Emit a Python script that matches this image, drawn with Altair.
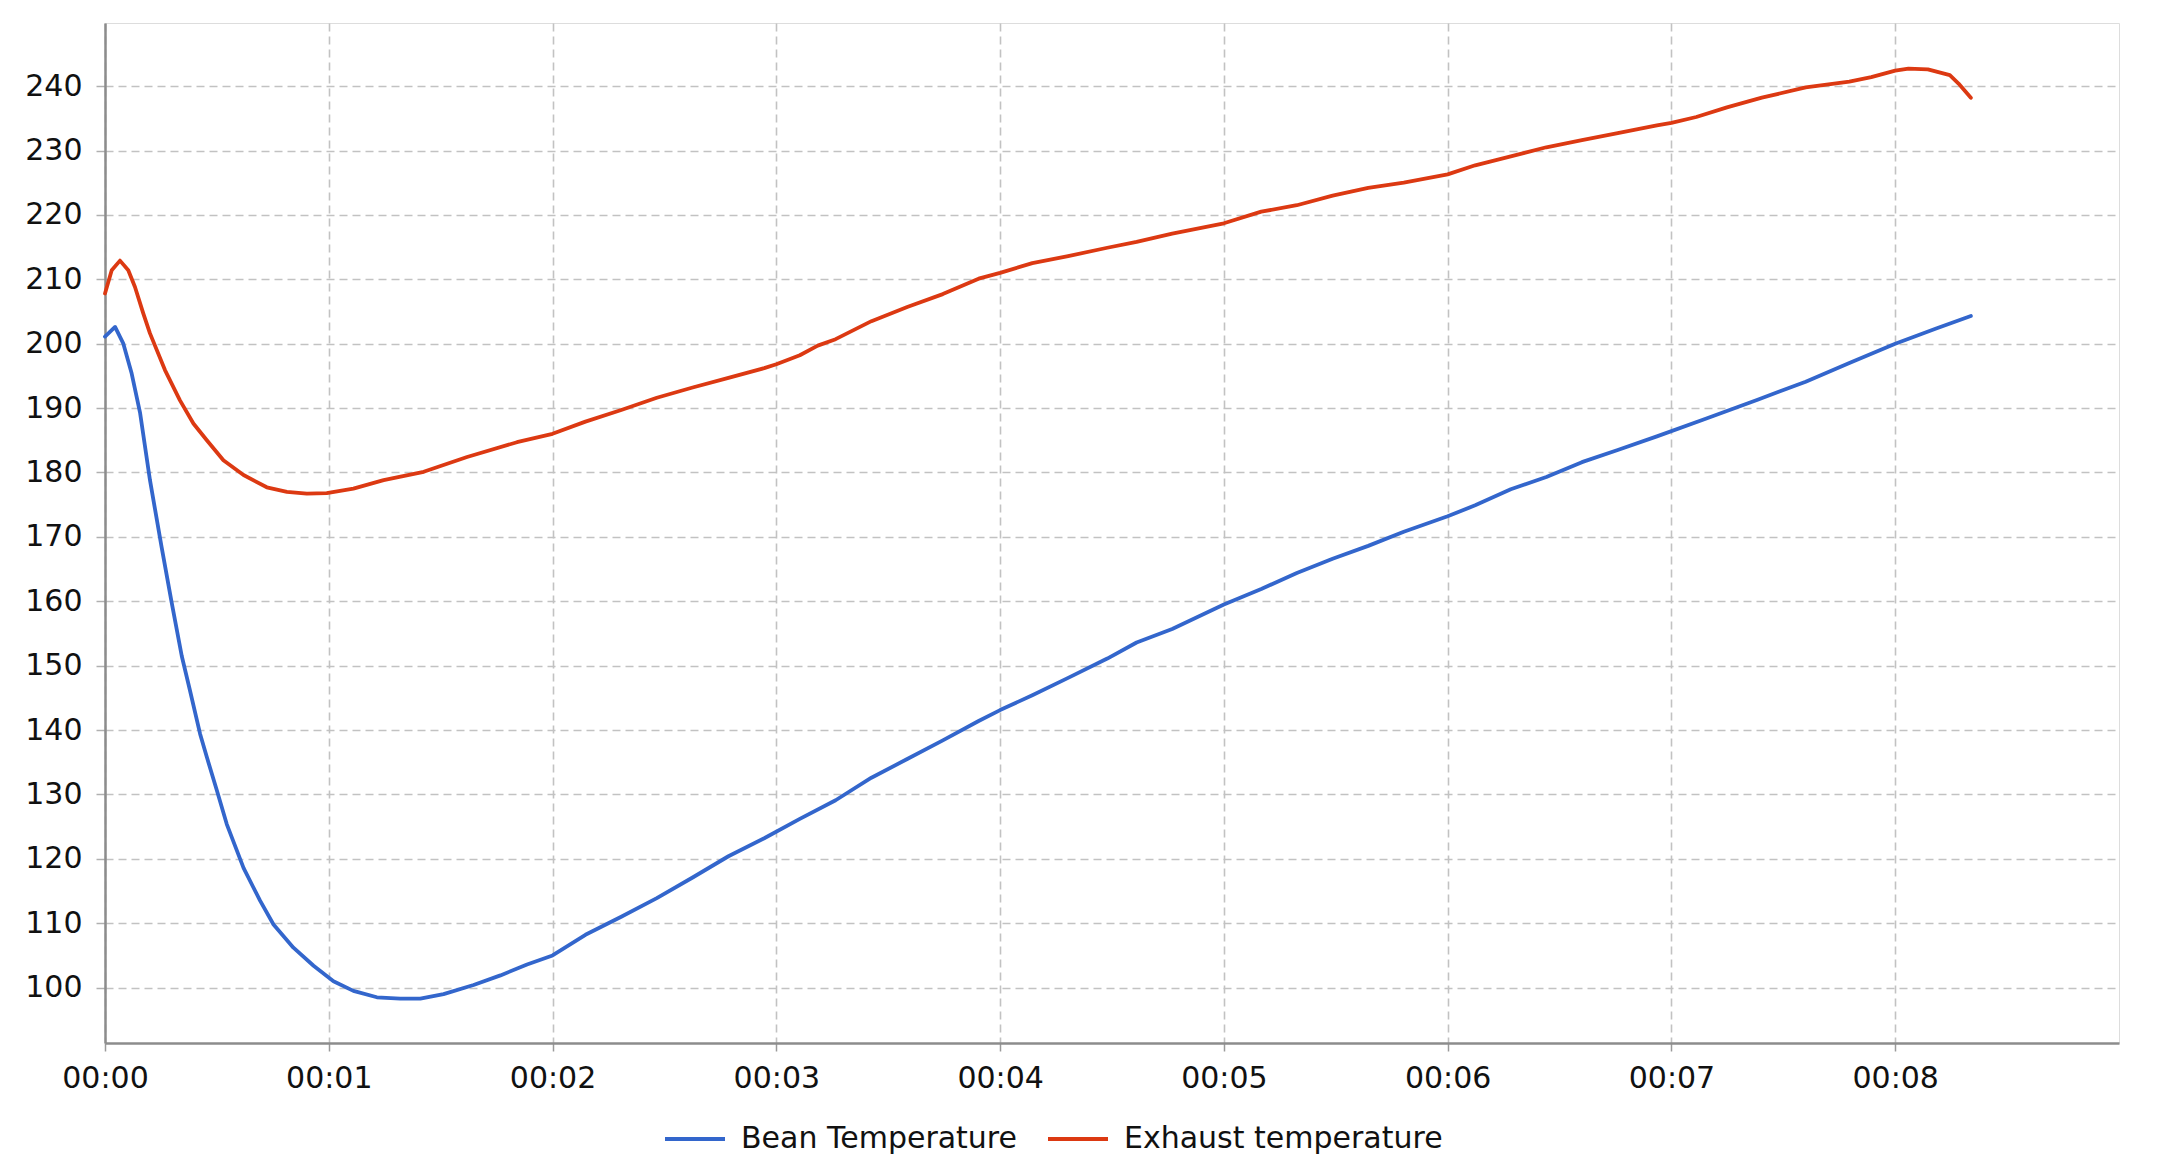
import altair as alt
import pandas as pd

# Time in minutes
bean_t = [0, 0.045, 0.082, 0.119, 0.157, 0.201, 0.253, 0.298, 0.343, 0.38, 0.425, 0.455, 0.5, 0.544,
          0.619, 0.693, 0.753, 0.842, 0.932, 1.021, 1.11, 1.215, 1.319, 1.409, 1.513, 1.647, 1.767,
          1.886, 2.0, 2.147, 2.307, 2.466, 2.626, 2.786, 2.946, 3.105, 3.265, 3.425, 3.585, 3.744,
          3.904, 4.0, 4.144, 4.304, 4.479, 4.61, 4.769, 5.0, 5.167, 5.326, 5.486, 5.645, 5.804, 6.0,
          6.123, 6.282, 6.441, 6.6, 6.76, 6.935, 7.15, 7.385, 7.6, 7.795, 8.0, 8.186, 8.338]
bean_v = [201.1, 202.6, 200.0, 195.4, 189.2, 178.8, 168.4, 159.8, 151.5, 146.1, 139.4, 135.8, 130.6,
          125.4, 118.6, 113.5, 109.8, 106.2, 103.4, 101.0, 99.5, 98.5, 98.3, 98.3, 99.0, 100.4, 101.9,
          103.6, 105.0, 108.2, 111.0, 113.9, 117.1, 120.4, 123.2, 126.2, 129.1, 132.6, 135.5, 138.4,
          141.4, 143.1, 145.4, 148.1, 151.1, 153.6, 155.7, 159.5, 161.9, 164.4, 166.6, 168.6, 170.8,
          173.2, 174.9, 177.4, 179.3, 181.6, 183.5, 185.6, 188.3, 191.3, 194.1, 197.0, 200.0, 202.4,
          204.3]

exh_t = [0, 0.03, 0.067, 0.104, 0.134, 0.171, 0.201, 0.268, 0.335, 0.395, 0.455, 0.529, 0.619, 0.723,
         0.813, 0.902, 0.991, 1.11, 1.245, 1.424, 1.618, 1.841, 2.0, 2.147, 2.307, 2.466, 2.626, 2.786,
         2.946, 3.0, 3.105, 3.185, 3.265, 3.425, 3.585, 3.744, 3.904, 4.0, 4.144, 4.304, 4.479, 4.61,
         4.769, 5.0, 5.167, 5.326, 5.486, 5.645, 5.804, 6.0, 6.123, 6.282, 6.441, 6.6, 6.76, 6.935, 7.0,
         7.111, 7.248, 7.404, 7.6, 7.795, 7.893, 8.0, 8.059, 8.146, 8.244, 8.283, 8.338]
exh_v = [207.8, 211.4, 212.9, 211.4, 208.8, 204.7, 201.6, 195.9, 191.2, 187.6, 185.0, 181.9, 179.6,
         177.7, 177.0, 176.7, 176.8, 177.5, 178.8, 180.1, 182.4, 184.7, 186.0, 187.9, 189.7, 191.6,
         193.2, 194.7, 196.2, 196.8, 198.2, 199.7, 200.7, 203.5, 205.7, 207.7, 210.1, 211.0, 212.5,
         213.6, 214.9, 215.8, 217.1, 218.7, 220.5, 221.5, 223.0, 224.2, 225.0, 226.3, 227.7, 229.1,
         230.5, 231.6, 232.7, 233.9, 234.3, 235.2, 236.7, 238.2, 239.8, 240.7, 241.4, 242.4, 242.7,
         242.6, 241.7, 240.4, 238.2]

series_names = ["Bean Temperature", "Exhaust temperature"]
series_colors = ["#3366cc", "#dc3912"]
x_ticks = [0, 1, 2, 3, 4, 5, 6, 7, 8]
y_ticks = [100, 110, 120, 130, 140, 150, 160, 170, 180, 190, 200, 210, 220, 230, 240]

df = pd.concat([
    pd.DataFrame({"t": bean_t, "v": bean_v, "series": series_names[0], "order": range(len(bean_t))}),
    pd.DataFrame({"t": exh_t, "v": exh_v, "series": series_names[1], "order": range(len(exh_t))}),
])

FONT = "DejaVu Sans"

chart = alt.Chart(df).mark_line(strokeWidth=3.8, strokeJoin="round", strokeCap="round").encode(
    x=alt.X("t:Q", scale=alt.Scale(domain=[0, 9], nice=False, zero=False),
            axis=alt.Axis(values=x_ticks, labelExpr="'00:0' + datum.value", title=None,
                          grid=True, gridDash=[8, 5], gridColor="#c2c2c2", gridWidth=1.6,
                          domainColor="#8c8c8c", domainWidth=2.5,
                          tickColor="#9a9a9a", tickSize=8, tickWidth=1.5,
                          labelFontSize=30, labelFont=FONT, labelColor="#111111",
                          labelPadding=12, labelFlush=False)),
    y=alt.Y("v:Q", scale=alt.Scale(domain=[91.4, 249.8], nice=False, zero=False),
            axis=alt.Axis(values=y_ticks, title=None,
                          grid=True, gridDash=[8, 5], gridColor="#c2c2c2", gridWidth=1.6,
                          domainColor="#8c8c8c", domainWidth=2.5,
                          tickColor="#b0b0b0", tickSize=9, tickWidth=1.5,
                          labelFontSize=30, labelFont=FONT, labelColor="#111111",
                          labelPadding=14)),
    color=alt.Color("series:N",
                    scale=alt.Scale(domain=series_names, range=series_colors),
                    legend=alt.Legend(orient="none", legendX=558, legendY=1084, direction="horizontal",
                                      title=None, symbolType="stroke", symbolSize=3600,
                                      symbolStrokeWidth=4, labelFontSize=30, labelFont=FONT,
                                      labelColor="#111111", labelOffset=14, columnPadding=22,
                                      labelLimit=0, padding=0)),
    order="order:Q",
).properties(
    width=2014,
    height=1020,
    autosize=alt.AutoSizeParams(type="none"),
    padding={"left": 97, "top": 15, "right": 55, "bottom": 124},
).configure_view(
    stroke="#aaaaaa", strokeWidth=1.5
).configure(
    font=FONT, background="white"
)

chart.save("out.html", embed_options={"renderer": "svg", "actions": False})
